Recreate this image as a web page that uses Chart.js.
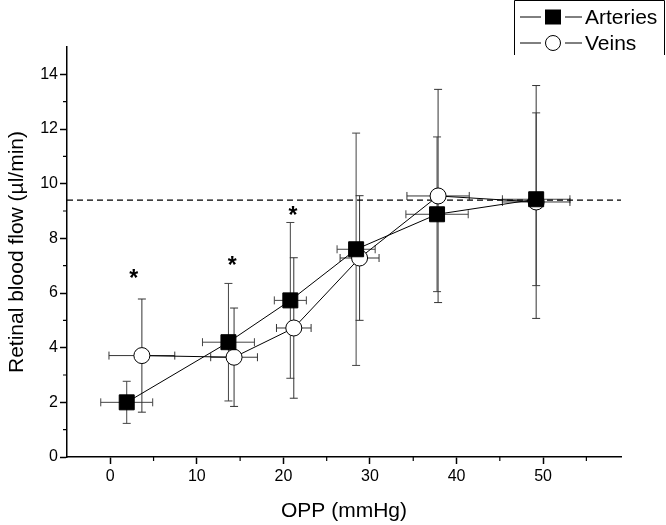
<!DOCTYPE html>
<html>
<head>
<meta charset="utf-8">
<script src="https://cdn.jsdelivr.net/npm/chart.js@4"></script>
<style>
  html, body { margin: 0; padding: 0; background: #fff; }
  #wrap { width: 666px; height: 525px; }
</style>
</head>
<body>
<div id="wrap"><canvas id="flowChart" width="666" height="525"></canvas></div>
<script>
// values
const arteriesX = [1.9, 13.65, 20.8, 28.4, 37.75, 49.2];
const arteriesY = [2.0, 4.2, 5.73, 7.6, 8.88, 9.43];
const arteriesYErr = [0.77, 2.15, 2.85, 4.25, 2.83, 3.16];
const arteriesXErr = [3.0, 3.0, 1.85, 2.2, 3.6, 3.9];

const veinsX = [3.65, 14.3, 21.2, 28.8, 37.87, 49.2];
const veinsY = [3.71, 3.65, 4.72, 7.28, 9.55, 9.33];
const veinsYErr = [2.07, 1.8, 2.57, 2.28, 3.9, 4.26];
const veinsXErr = [3.8, 2.7, 2.0, 2.25, 3.6, 3.9];

const starX = [2.7, 14.1, 21.1];
const starY = [6.69, 7.19, 9.0];
const refLevel = 9.4; // dashed line

const xTicks = [0, 10, 20, 30, 40, 50];
const xMinor = [5, 15, 25, 35, 45, 55];
const yTicks = [0, 2, 4, 6, 8, 10, 12, 14];
const yMinor = [1, 3, 5, 7, 9, 11, 13];

const FONT = '"Liberation Sans", Arial, sans-serif';

function points(xs, ys, xe, ye) {
  return xs.map((x, i) => ({ x: x, y: ys[i], xErr: xe[i], yErr: ye[i] }));
}

// error bars go under the markers
const errorBars = {
  id: 'errorBars',
  beforeDatasetsDraw(chart) {
    const { ctx, scales: { x, y } } = chart;
    const cap = 4;
    ctx.save();
    chart.data.datasets.forEach(ds => {
      ctx.strokeStyle = ds.errColor;
      ctx.lineWidth = 1;
      ds.data.forEach(p => {
        const px = x.getPixelForValue(p.x);
        const py = y.getPixelForValue(p.y);
        const top = y.getPixelForValue(p.y + p.yErr);
        const bot = y.getPixelForValue(p.y - p.yErr);
        const l = x.getPixelForValue(p.x - p.xErr);
        const r = x.getPixelForValue(p.x + p.xErr);
        ctx.beginPath();
        ctx.moveTo(px, top); ctx.lineTo(px, bot);
        ctx.moveTo(px - cap, top); ctx.lineTo(px + cap, top);
        ctx.moveTo(px - cap, bot); ctx.lineTo(px + cap, bot);
        ctx.moveTo(l, py); ctx.lineTo(r, py);
        ctx.moveTo(l, py - cap); ctx.lineTo(l, py + cap);
        ctx.moveTo(r, py - cap); ctx.lineTo(r, py + cap);
        ctx.stroke();
      });
    });
    // reference level
    const ry = y.getPixelForValue(refLevel);
    ctx.strokeStyle = '#000';
    ctx.lineWidth = 1.3;
    ctx.setLineDash([6, 4]);
    ctx.beginPath();
    ctx.moveTo(x.left, ry);
    ctx.lineTo(x.right, ry);
    ctx.stroke();
    ctx.restore();
  }
};

// minor ticks, asterisks and the boxed legend
const extras = {
  id: 'extras',
  afterDraw(chart) {
    const { ctx, scales: { x, y } } = chart;
    ctx.save();
    ctx.strokeStyle = '#000';
    ctx.lineWidth = 1.2;
    ctx.beginPath();
    xMinor.forEach(v => {
      const px = x.getPixelForValue(v);
      ctx.moveTo(px, y.bottom); ctx.lineTo(px, y.bottom + 4);
    });
    yMinor.forEach(v => {
      const py = y.getPixelForValue(v);
      ctx.moveTo(x.left, py); ctx.lineTo(x.left - 4, py);
    });
    ctx.stroke();

    ctx.fillStyle = '#000';
    ctx.font = 'bold 23px ' + FONT;
    ctx.textAlign = 'center';
    ctx.textBaseline = 'middle';
    starX.forEach((v, i) => {
      ctx.fillText('*', x.getPixelForValue(v), y.getPixelForValue(starY[i]) + 6);
    });

    // legend box (right side runs off the figure)
    ctx.lineWidth = 1;
    ctx.beginPath();
    ctx.moveTo(514.5, 55); ctx.lineTo(514.5, 0.5); ctx.lineTo(664.5, 0.5); ctx.lineTo(664.5, 55);
    ctx.stroke();
    const rows = [
      { label: 'Arteries', cy: 17, square: true },
      { label: 'Veins', cy: 43, square: false }
    ];
    ctx.font = '21px ' + FONT;
    ctx.textAlign = 'left';
    rows.forEach(r => {
      ctx.beginPath();
      ctx.moveTo(520, r.cy); ctx.lineTo(541, r.cy);
      ctx.moveTo(565, r.cy); ctx.lineTo(582, r.cy);
      ctx.stroke();
      if (r.square) {
        ctx.fillRect(545, r.cy - 7.5, 16, 15);
      } else {
        ctx.beginPath();
        ctx.arc(553, r.cy, 7.5, 0, Math.PI * 2);
        ctx.fillStyle = '#fff';
        ctx.fill();
        ctx.stroke();
        ctx.fillStyle = '#000';
      }
      ctx.fillText(r.label, 585, r.cy + 1);
    });
    ctx.restore();
  }
};

const ctx = document.getElementById('flowChart').getContext('2d');
new Chart(ctx, {
  type: 'scatter',
  data: {
    datasets: [
      {
        label: 'Arteries',
        data: points(arteriesX, arteriesY, arteriesXErr, arteriesYErr),
        showLine: true,
        borderColor: '#000',
        borderWidth: 1,
        pointStyle: 'rect',
        pointRadius: 10.6,
        pointBackgroundColor: '#000',
        pointBorderColor: '#000',
        pointBorderWidth: 1,
        errColor: '#444'
      },
      {
        label: 'Veins',
        data: points(veinsX, veinsY, veinsXErr, veinsYErr),
        showLine: true,
        borderColor: '#000',
        borderWidth: 1,
        pointStyle: 'circle',
        pointRadius: 8,
        pointBackgroundColor: '#fff',
        pointBorderColor: '#000',
        pointBorderWidth: 1,
        errColor: '#333'
      }
    ]
  },
  options: {
    responsive: false,
    animation: false,
    layout: { padding: { top: 47, right: 45, left: 0, bottom: 0 } },
    plugins: {
      legend: { display: false },
      tooltip: { enabled: false }
    },
    scales: {
      x: {
        type: 'linear',
        min: -5,
        max: 59,
        afterBuildTicks: s => { s.ticks = xTicks.map(v => ({ value: v })); },
        afterFit: s => { s.height = 68; },
        border: { color: '#000', width: 1.5 },
        grid: { drawOnChartArea: false, drawTicks: true, tickLength: 7, color: '#000', tickWidth: 1.5 },
        ticks: { color: '#000', font: { family: FONT, size: 16 }, padding: 3, maxRotation: 0 },
        title: { display: true, text: 'OPP (mmHg)', color: '#000', font: { family: FONT, size: 21 }, padding: { top: 0, bottom: 1 } }
      },
      y: {
        type: 'linear',
        min: 0,
        max: 15,
        afterBuildTicks: s => { s.ticks = yTicks.map(v => ({ value: v })); },
        afterFit: s => { s.width = 67; },
        border: { color: '#000', width: 1.5 },
        grid: { drawOnChartArea: false, drawTicks: true, tickLength: 7, color: '#000', tickWidth: 1.5 },
        ticks: { color: '#000', font: { family: FONT, size: 16 }, padding: 2 },
        title: { display: true, text: 'Retinal blood flow (µl/min)', color: '#000', font: { family: FONT, size: 21 }, padding: { top: 5, bottom: 0 } }
      }
    }
  },
  plugins: [errorBars, extras]
});
</script>
</body>
</html>
